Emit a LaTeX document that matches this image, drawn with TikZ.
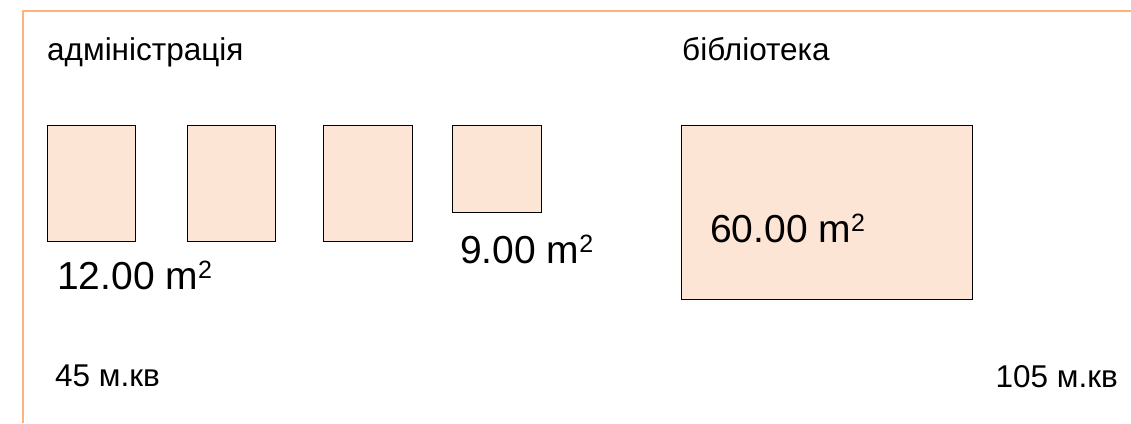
\documentclass[tikz,border=0pt]{standalone}
\usepackage{fontspec}
\setmainfont{Liberation Sans}
\definecolor{roomfill}{RGB}{253,229,214}
\definecolor{wallline}{RGB}{255,178,122}
\newcommand{\msq}{m\raisebox{11pt}{\fontsize{25}{25}\selectfont 2}}
\tikzset{
  room/.style={draw=black, fill=roomfill, line width=0.8pt, inner sep=0pt, anchor=north west},
  area/.style={anchor=base west, inner sep=0pt, font=\fontsize{39}{44}\selectfont},
  title/.style={anchor=base west, inner sep=0pt, font=\fontsize{31.5}{36}\selectfont}
}

\begin{document}
\begin{tikzpicture}[x=1pt, y=-1pt]
\useasboundingbox (0,0) rectangle (1131,423);
\coordinate (corner) at (23,11);
\coordinate (topend) at (1131,11);
\coordinate (leftend) at (23,423);
\draw[wallline, line width=2pt] (topend) -- (corner) -- (leftend);
\node[room, minimum width=88pt, minimum height=116pt] (adm1) at (47,125) {};
\node[room, minimum width=88pt, minimum height=116pt] (adm2) at (187,125) {};
\node[room, minimum width=89pt, minimum height=116pt] (adm3) at (323,125) {};
\node[room, minimum width=89pt, minimum height=87pt] (adm4) at (452,125) {};
\node[room, minimum width=291pt, minimum height=174pt] (lib) at (681,125) {};
\node[title] (admname) at (47,60) {адміністрація};
\node[title] (libname) at (682,60) {бібліотека};
\node[area] (admarea) at (57,289) {12.00 \msq};
\node[area] (smallarea) at (460,263) {9.00 \msq};
\node[area] (libarea) at (710,242) {60.00 \msq};
\node[title] (admtotal) at (55,386) {45 м.кв};
\node[title, anchor=base east] (libtotal) at (1118,387) {105 м.кв};
\end{tikzpicture}
\end{document}
